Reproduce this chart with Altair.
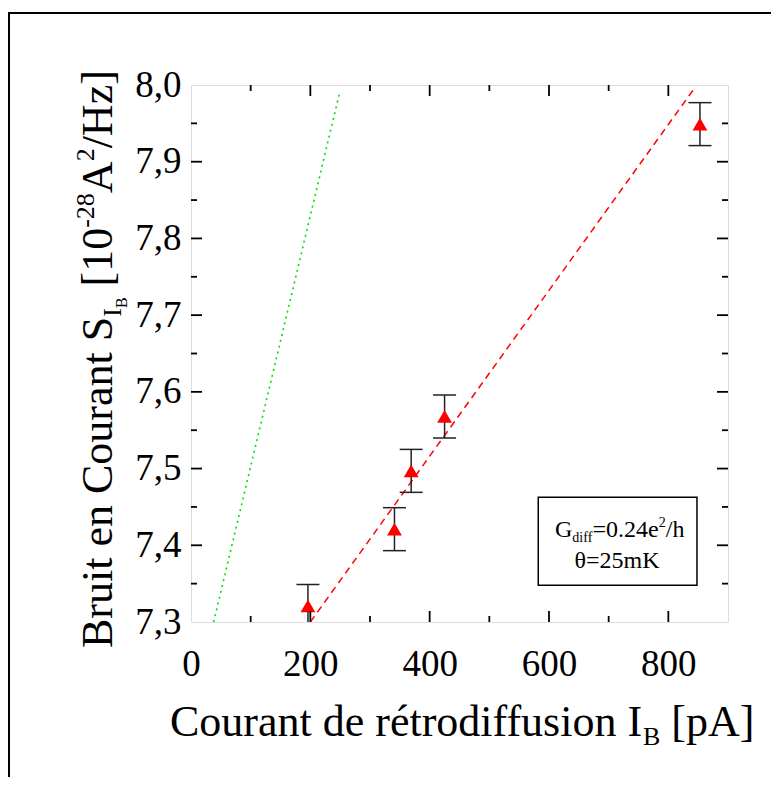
import altair as alt
import pandas as pd

# ---- data ----
ib_pA = [196, 341, 369, 425, 853]
noise = [7.321, 7.421, 7.497, 7.568, 7.949]
noise_err = [0.028, 0.028, 0.028, 0.028, 0.028]

red_fit_x = [200, 843]
red_fit_y = [7.30, 7.995]
green_x = [38, 249]
green_y = [7.30, 7.99]

x_labels = [0, 200, 400, 600, 800]
x_major = [200, 400, 600, 800]
x_minor = [100, 300, 500, 700]
y_labels = [7.3, 7.4, 7.5, 7.6, 7.7, 7.8, 7.9, 8.0]
y_major = [7.4, 7.5, 7.6, 7.7, 7.8, 7.9]
y_minor = [7.35, 7.45, 7.55, 7.65, 7.75, 7.85, 7.95]

legend_box_x = [582, 848]
legend_box_y = [7.348, 7.4626]

FONT = "Liberation Serif"
W, H = 537, 537
OX, OY = 191, 85  # page position of plot origin

XS = alt.Scale(domain=[0, 900], nice=False, zero=False)
YS = alt.Scale(domain=[7.3, 8.0], nice=False, zero=False)

pts = pd.DataFrame({"x": ib_pA, "y": noise,
                    "lo": [a - b for a, b in zip(noise, noise_err)],
                    "hi": [a + b for a, b in zip(noise, noise_err)]})

base_x = alt.X("x:Q", scale=XS,
               axis=alt.Axis(values=x_labels, ticks=False, tickSize=0, domain=False, grid=False,
                             labelFont=FONT, labelFontSize=37, labelColor="black",
                             labelPadding=24, labelFlush=False, labelOverlap=False, title=None))
base_y = alt.Y("y:Q", scale=YS,
               axis=alt.Axis(values=y_labels, ticks=False, tickSize=0, domain=False, grid=False,
                             labelFont=FONT, labelFontSize=37, labelColor="black",
                             labelPadding=10, labelFlush=False, labelOverlap=False,
                             labelExpr="replace(format(datum.value, '.1f'), '.', ',')", title=None))

layers = []

# fits
red = pd.DataFrame({"x": red_fit_x, "y": red_fit_y})
layers.append(alt.Chart(red).mark_line(color="#ff0000", strokeWidth=1.5, strokeDash=[7, 5], clip=True)
              .encode(x=base_x, y=base_y))
green = pd.DataFrame({"x": green_x, "y": green_y})
layers.append(alt.Chart(green).mark_line(color="#00e000", strokeWidth=1.6, strokeDash=[2, 4], clip=True)
              .encode(x=alt.X("x:Q", scale=XS), y=alt.Y("y:Q", scale=YS)))

# error bars
layers.append(alt.Chart(pts).mark_rule(color="#222222", strokeWidth=1.5, clip=True)
              .encode(x=alt.X("x:Q", scale=XS), y=alt.Y("lo:Q", scale=YS), y2="hi:Q"))
for col in ["lo", "hi"]:
    layers.append(alt.Chart(pts).mark_tick(color="#222222", orient="horizontal", size=23,
                                           thickness=1.5, clip=True, opacity=1)
                  .encode(x=alt.X("x:Q", scale=XS), y=alt.Y(f"{col}:Q", scale=YS)))

# triangles
layers.append(alt.Chart(pts).mark_point(shape="triangle-up", filled=True, color="#ff0000",
                                        size=220, opacity=1)
              .encode(x=alt.X("x:Q", scale=XS), y=alt.Y("y:Q", scale=YS)))

# inward ticks
def xticks(vals, length):
    df = pd.DataFrame({"v": vals})
    out = []
    for y0, y1 in [(H, H - length), (0, length)]:
        out.append(alt.Chart(df).mark_rule(color="black", strokeWidth=1.8)
                   .encode(x=alt.X("v:Q", scale=XS), y=alt.value(y0), y2=alt.value(y1)))
    return out

def yticks(vals, length):
    df = pd.DataFrame({"v": vals})
    out = []
    for x0, x1 in [(0, length), (W, W - length)]:
        out.append(alt.Chart(df).mark_rule(color="black", strokeWidth=1.8)
                   .encode(y=alt.Y("v:Q", scale=YS), x=alt.value(x0), x2=alt.value(x1)))
    return out

layers += xticks(x_major, 11) + xticks(x_minor, 6) + yticks(y_major, 11) + yticks(y_minor, 6)

# legend box
box = pd.DataFrame({"x": [legend_box_x[0]], "x2": [legend_box_x[1]],
                    "y": [legend_box_y[0]], "y2": [legend_box_y[1]]})
layers.append(alt.Chart(box).mark_rect(fill="white", stroke="black", strokeWidth=1.5)
              .encode(x=alt.X("x:Q", scale=XS), x2="x2:Q", y=alt.Y("y:Q", scale=YS), y2="y2:Q"))

# text helpers (Times-like advance widths, 1/1000 em)
ADV = {' ': 250, 'B': 667, 'C': 667, 'A': 722, 'G': 722, 'H': 722, 'I': 333, 'K': 722,
       'S': 556, '[': 333, ']': 333, '/': 278, '=': 564, '.': 250, ',': 250, '-': 333,
       'a': 444, 'b': 500, 'd': 500, 'e': 444, 'é': 444, 'f': 333, 'h': 500, 'i': 278,
       'm': 778, 'n': 500, 'o': 500, 'p': 500, 'r': 333, 's': 389, 't': 278, 'u': 500,
       'z': 444, 'θ': 500}

def tw(s, fs):
    return sum(ADV.get(c, 500) for c in s) * fs / 1000.0

one = pd.DataFrame({"a": [0]})

def txt(s, fs, px, py, angle=0, align="left"):
    return (alt.Chart(one).mark_text(text=s, font=FONT, fontSize=fs, color="black",
                                     align=align, baseline="alphabetic", angle=angle)
            .encode(x=alt.value(px - OX), y=alt.value(py - OY)))

def hrun(pieces, x0, yb):
    out, cx = [], x0
    for s, fs, dy in pieces:
        if s.startswith(" "):
            cx += tw(" ", fs)
            s = s[1:]
        out.append(txt(s, fs, cx, yb + dy))
        cx += tw(s, fs)
    return out

def vrun(pieces, xb, y0):
    out, cy = [], y0
    for s, fs, dx in pieces:
        if s.startswith(" "):
            cy -= tw(" ", fs)
            s = s[1:]
        out.append(txt(s, fs, xb + dx, cy, angle=270))
        cy -= tw(s, fs)
    return out

# x title
layers += hrun([("Courant de rétrodiffusion I", 44, 0), ("B", 26, 9), (" [pA]", 44, 0)], 170, 736)
# y title
layers += vrun([("Bruit en Courant S", 44, 0), ("I", 26, 9), ("B", 16, 15),
                (" [10", 44, 0), ("-28", 26, -18), ("A", 44, 0), ("2", 26, -18),
                ("/Hz]", 44, 0)], 112, 648)
# legend text
layers += hrun([("G", 24, 0), ("diff", 14, 5), ("=0.24e", 24, 0), ("2", 14, -10), ("/h", 24, 0)],
               555, 537)
layers.append(txt("θ=25mK", 24, 617, 568, align="center"))

# outer frame
frame = pd.DataFrame({"a": [0]})
layers.append(alt.Chart(frame).mark_rect(fill=None, stroke="black", strokeWidth=2)
              .encode(x=alt.value(9 - OX), x2=alt.value(800 - OX),
                      y=alt.value(13 - OY), y2=alt.value(820 - OY)))

chart = (alt.layer(*layers)
         .properties(width=W, height=H,
                     padding={"left": 183, "top": 77, "right": 43, "bottom": 155},
                     autosize=alt.AutoSizeParams(type="none"))
         .configure_view(stroke="black", strokeWidth=2)
         .configure_axis(labelFont=FONT, labelFontSize=37, labelColor="black")
         .configure(background="white", font=FONT))

chart.save("out.html", embed_options={"renderer": "svg", "actions": False})
